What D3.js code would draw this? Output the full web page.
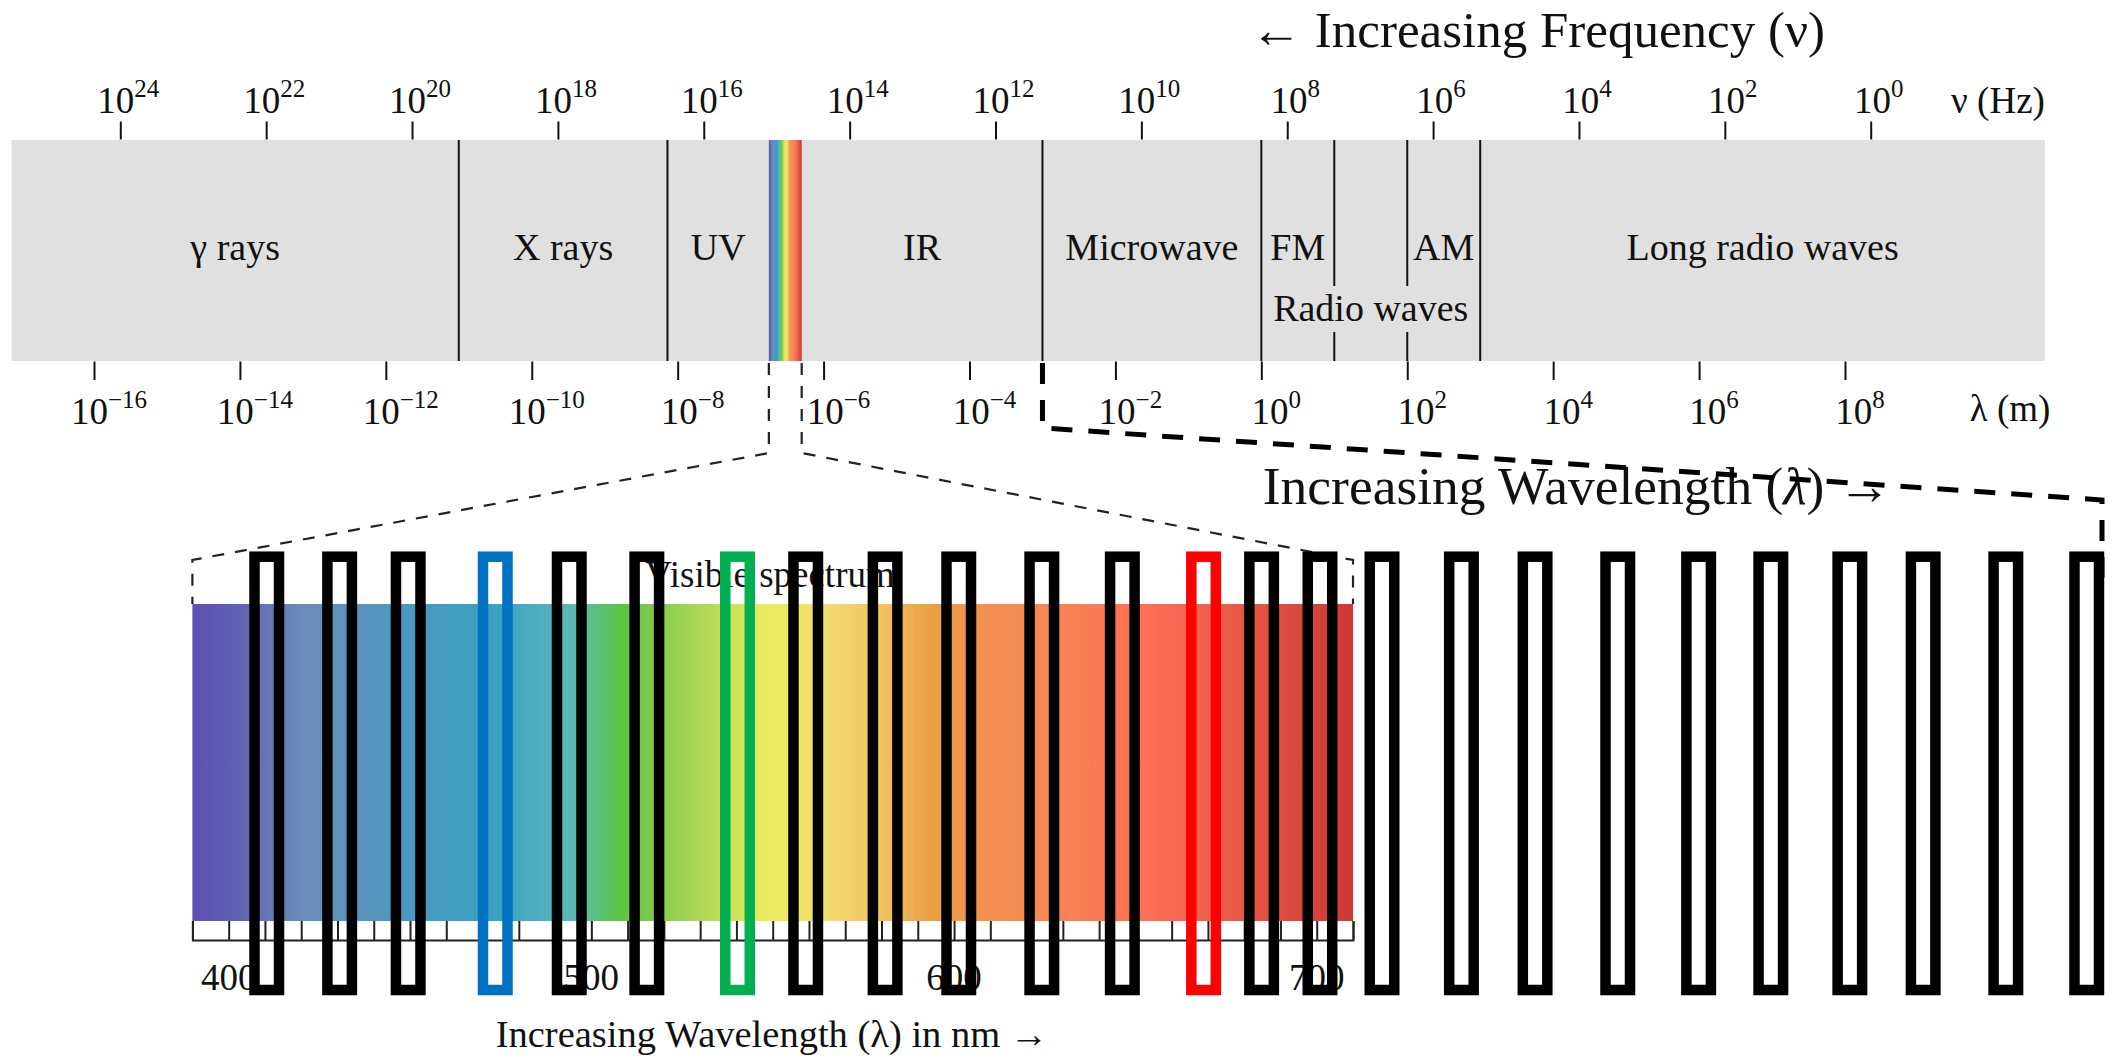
<!DOCTYPE html>
<html>
<head>
<meta charset="utf-8">
<script src="https://cdn.jsdelivr.net/npm/d3@7"></script>
<style>
  body { margin: 0; background: #fff; }
  svg { display: block; }
  text { font-family: "Liberation Serif", "Times New Roman", serif; fill: #111; }
</style>
</head>
<body>
<svg id="chart" width="2118" height="1059"></svg>
<script>
// ---- data -------------------------------------------------------------
// Tick exponents (powers of ten)
const freqExponents = [24, 22, 20, 18, 16, 14, 12, 10, 8, 6, 4, 2, 0];
const wavelengthExponents = [-16, -14, -12, -10, -8, -6, -4, -2, 0, 2, 4, 6, 8];

// Regions of the spectrum, bounds in log10(wavelength / m)
const regionNames = ["γ rays", "X rays", "UV", "IR", "Microwave", "FM", "AM", "Long radio waves"];
const regionStart = [-17.13, -11, -8.14, -6.30, -3, 0, 2, 3];
const regionEnd   = [-11, -8.14, -6.75, -3, 0, 1, 3, 10.74];

// Boundary lines (log10 m); the two inner radio lines break around the "Radio waves" label
const boundaries = [-11, -8.14, -3, 0, 3];
const splitBoundaries = [1, 2];
const radioWaves = { name: "Radio waves", start: 0, end: 3 };

// Overall band and the visible slice inside it (log10 m)
const spectrumExtent = [-17.13, 10.74];
const visibleSlice = [-6.75, -6.30];

// Visible spectrum detail (nm)
const visibleRange = [390, 710];
const visibleTickStep = 10;
const visibleLabels = [400, 500, 600, 700];
const stopNm = [390, 403, 420, 447, 472, 487, 496, 508, 526, 548, 563, 581, 594, 604, 628, 653, 678, 702, 710];
const stopColor = ["#6050b0", "#6262b4", "#6a8cb8", "#4d98c0", "#38a0c0", "#50b0c0", "#5ebcae", "#5cc244",
                   "#a0d455", "#eaec60", "#f2e070", "#f2c060", "#e8a040", "#f09450", "#f88555", "#fc6e55",
                   "#e85a48", "#d44036", "#cc3a33"];

// Outlined bars, placed along the nm scale
const barNm = [410.5, 430.6, 449.5, 473.5, 493.9, 515.3, 540.3, 559.1, 581.0, 601.3, 624.2, 646.4, 668.8,
               684.8, 700.9, 718.0, 739.9, 760.2, 783.0, 805.3, 825.2, 847.0, 867.2, 890.0, 912.3];
const barColor = ["#000", "#000", "#000", "#0070c0", "#000", "#000", "#00b050", "#000", "#000", "#000",
                  "#000", "#000", "#ff0000", "#000", "#000", "#000", "#000", "#000", "#000", "#000",
                  "#000", "#000", "#000", "#000", "#000"];

// ---- layout -----------------------------------------------------------
const W = 2118, H = 1059;
const bandTop = 140, bandBottom = 361;
const visTop = 604, visBottom = 921, visAxisY = 940;
const barTop = 556.7, barBottom = 990;

const svg = d3.select("#chart");

const xFreq = d3.scaleLinear().domain([24, 0]).range([120.3, 1870.7]);
const xWave = d3.scaleLinear().domain([-16, 8]).range([94, 1845]);
const xVis  = d3.scaleLinear().domain(visibleRange).range([192.4, 1353]);

// Gradients
const defs = svg.append("defs");
const offsets = stopNm.map(n => (n - visibleRange[0]) / (visibleRange[1] - visibleRange[0]));
function addGradient(id) {
  const g = defs.append("linearGradient").attr("id", id)
    .attr("x1", "0%").attr("x2", "100%").attr("y1", "0%").attr("y2", "0%");
  g.selectAll("stop").data(stopColor).join("stop")
    .attr("offset", (d, i) => offsets[i]).attr("stop-color", d => d);
}
addGradient("visGrad");
addGradient("stripGrad");

// ---- full spectrum band ----------------------------------------------
svg.append("rect")
  .attr("x", xWave(spectrumExtent[0])).attr("y", bandTop)
  .attr("width", xWave(spectrumExtent[1]) - xWave(spectrumExtent[0]))
  .attr("height", bandBottom - bandTop)
  .attr("fill", "#e0e0e0");

svg.append("rect")
  .attr("x", xWave(visibleSlice[0])).attr("y", bandTop)
  .attr("width", xWave(visibleSlice[1]) - xWave(visibleSlice[0]))
  .attr("height", bandBottom - bandTop)
  .attr("fill", "url(#stripGrad)");

svg.append("g").selectAll("line").data(boundaries).join("line")
  .attr("x1", d => xWave(d)).attr("x2", d => xWave(d))
  .attr("y1", bandTop).attr("y2", bandBottom)
  .attr("stroke", "#111").attr("stroke-width", 2);

const radioLabelY = 321;
splitBoundaries.forEach(d => {
  [[bandTop, 286], [332, bandBottom]].forEach(([a, b]) => {
    svg.append("line")
      .attr("x1", xWave(d)).attr("x2", xWave(d)).attr("y1", a).attr("y2", b)
      .attr("stroke", "#111").attr("stroke-width", 2);
  });
});

svg.append("g").selectAll("text").data(regionNames).join("text")
  .attr("x", (d, i) => (xWave(regionStart[i]) + xWave(regionEnd[i])) / 2)
  .attr("y", 260)
  .attr("text-anchor", "middle")
  .attr("font-size", 38)
  .text(d => d);

svg.append("text")
  .attr("x", (xWave(radioWaves.start) + xWave(radioWaves.end)) / 2)
  .attr("y", radioLabelY)
  .attr("text-anchor", "middle").attr("font-size", 38)
  .text(radioWaves.name);

// ---- axes -------------------------------------------------------------
function powerLabel(text, exp) {
  text.append("tspan").text("10");
  text.append("tspan").attr("dy", -16).attr("font-size", 25)
    .text(exp < 0 ? "\u2212" + (-exp) : String(exp));
}

const topAxis = svg.append("g").attr("transform", `translate(0,${bandTop - 0.5})`)
  .call(d3.axisTop(xFreq).tickValues(freqExponents).tickSize(18).tickFormat(""));
topAxis.select(".domain").remove();
topAxis.selectAll(".tick line").attr("stroke", "#111").attr("stroke-width", 2);

svg.append("g").selectAll("text").data(freqExponents).join("text")
  .attr("x", d => xFreq(d) + 8).attr("y", 113)
  .attr("text-anchor", "middle").attr("font-size", 37)
  .each(function (d) { powerLabel(d3.select(this), d); });

const botAxis = svg.append("g").attr("transform", `translate(0,${bandBottom + 0.5})`)
  .call(d3.axisBottom(xWave).tickValues(wavelengthExponents).tickSize(18.5).tickFormat(""));
botAxis.select(".domain").remove();
botAxis.selectAll(".tick line").attr("stroke", "#111").attr("stroke-width", 2);

svg.append("g").selectAll("text").data(wavelengthExponents).join("text")
  .attr("x", d => xWave(d) + 15).attr("y", 424)
  .attr("text-anchor", "middle").attr("font-size", 37)
  .each(function (d) { powerLabel(d3.select(this), d); });

svg.append("text").attr("x", 1998).attr("y", 113).attr("text-anchor", "middle")
  .attr("font-size", 37).text("ν (Hz)");
svg.append("text").attr("x", 2010).attr("y", 421).attr("text-anchor", "middle")
  .attr("font-size", 37).text("λ (m)");

svg.append("text").attr("x", 1538).attr("y", 47).attr("text-anchor", "middle")
  .attr("font-size", 51).text("← Increasing Frequency (ν)");

// ---- zoom brackets ------------------------------------------------------
const thin = d3.line();
[[xWave(visibleSlice[0]), xVis(visibleRange[0])], [xWave(visibleSlice[1]), xVis(visibleRange[1])]]
  .forEach(([xa, xb]) => {
    svg.append("path")
      .attr("d", thin([[xa, bandBottom + 2], [xa, 453], [xb, 560], [xb, visTop]]))
      .attr("fill", "none").attr("stroke", "#222").attr("stroke-width", 2.2)
      .attr("stroke-dasharray", "12,11");
  });

// ---- visible spectrum detail ------------------------------------------
svg.append("rect")
  .attr("x", xVis(visibleRange[0])).attr("y", visTop)
  .attr("width", xVis(visibleRange[1]) - xVis(visibleRange[0]))
  .attr("height", visBottom - visTop)
  .attr("fill", "url(#visGrad)");

const visAxis = svg.append("g").attr("transform", `translate(0,${visAxisY})`)
  .call(d3.axisTop(xVis)
    .tickValues(d3.range(visibleRange[0], visibleRange[1] + 1, visibleTickStep))
    .tickSize(visAxisY - visBottom).tickSizeOuter(visAxisY - visBottom).tickFormat(""));
visAxis.selectAll("line, path").attr("stroke", "#222").attr("stroke-width", 2);

svg.append("g").selectAll("text").data(visibleLabels).join("text")
  .attr("x", d => xVis(d)).attr("y", 990)
  .attr("text-anchor", "middle").attr("font-size", 37)
  .text(d => d);

svg.append("text").attr("x", 770).attr("y", 587).attr("text-anchor", "middle")
  .attr("font-size", 37).text("Visible spectrum");

svg.append("text").attr("x", 772).attr("y", 1047).attr("text-anchor", "middle")
  .attr("font-size", 38.5).text("Increasing Wavelength (λ) in nm →");

const mid = svg.append("text").attr("x", 1577).attr("y", 504).attr("text-anchor", "middle")
  .attr("font-size", 53.5);
mid.append("tspan").text("Increasing Wavelength (");
mid.append("tspan").attr("font-style", "italic").text("λ");
mid.append("tspan").text(") →");

// thick bracket from the microwave boundary to the right edge
svg.append("path")
  .attr("d", thin([[xWave(-3), bandBottom + 2], [xWave(-3), 428], [W - 16, 500], [W - 16, 578]]))
  .attr("fill", "none").attr("stroke", "#000").attr("stroke-width", 5)
  .attr("stroke-dasharray", "21,16");

// ---- outlined bars -------------------------------------------------------
const barW = 24.5;
svg.append("g").selectAll("rect").data(barNm).join("rect")
  .attr("x", d => xVis(d) - barW / 2)
  .attr("y", barTop)
  .attr("width", barW)
  .attr("height", barBottom - barTop)
  .attr("fill", "none")
  .attr("stroke", (d, i) => barColor[i])
  .attr("stroke-width", 10.5);
</script>
</body>
</html>
